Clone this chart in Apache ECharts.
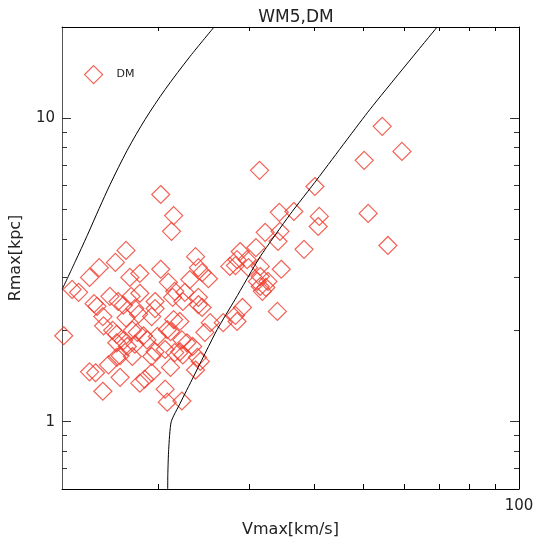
<!DOCTYPE html>
<html><head><meta charset="utf-8">
<script src="https://cdn.jsdelivr.net/npm/echarts@6/dist/echarts.min.js"></script>
<style>html,body{margin:0;padding:0;background:#fff}#c{width:537px;height:537px}</style>
</head><body><div id="c"></div>
<script>
// DM halo sample: Vmax [km/s] and Rmax [kpc]
const vmaxDM = [54.3,59.3,50.1,40.2,36.6,41.0,40.8,51.0,38.3,55.7,31.4,20.2,21.4,21.2,34.3,32.2,34.4,34.1,30.9,28.8,
  23.6,29.7,28.4,27.5,28.2,29.9,31.5,23.9,24.3,25.0,23.0,34.6,31.5,31.1,32.6,31.5,32.3,22.5,23.9,22.3,
  23.9,24.3,29.1,34.0,31.8,25.2,24.6,26.7,28.4,28.2,22.2,22.7,23.3,22.3,23.8,24.1,23.6,22.0,17.3,16.5,
  15.35,14.7,17.6,18.4,20.2,20.9,13.6,14.0,16.1,17.7,18.4,21.5,15.2,15.0,16.7,17.1,18.0,19.7,19.7,21.3,
  15.6,15.65,17.3,18.3,19.4,21.4,13.1,16.3,16.6,17.8,18.2,18.7,19.0,17.1,16.6,17.4,18.0,16.85,16.6,17.8,
  16.0,14.7,15.1,16.85,15.6,18.4,18.8,19.4,19.9,20.8,21.1,19.7,19.4,20.6,21.5,22.0,21.1,20.6,20.8,22.2];
const rmaxDM = [9.41,7.78,7.27,5.96,4.93,4.75,4.40,4.86,3.70,3.81,6.74,5.61,4.78,4.24,4.90,4.21,4.24,3.93,3.75,3.64,
  3.50,3.42,3.42,3.25,3.27,3.22,3.25,3.22,3.10,2.96,2.94,3.18,3.01,2.90,2.90,2.79,2.77,2.67,2.57,2.49,
  2.43,2.38,2.38,2.31,2.69,2.12,1.97,2.12,2.14,2.24,1.86,1.82,1.77,1.66,1.63,1.58,1.48,2.14,3.67,3.35,
  3.22,2.99,2.99,3.08,3.18,2.88,2.73,2.67,2.59,2.59,2.65,2.69,2.40,2.45,2.49,2.42,2.36,2.49,2.36,2.57,
  2.22,2.07,2.20,2.26,2.22,2.17,1.92,2.00,1.94,2.00,1.97,1.92,1.86,1.85,1.82,1.77,1.80,1.65,1.63,1.64,
  1.54,1.46,1.45,1.40,1.26,1.34,1.38,1.45,1.91,2.01,1.98,1.70,1.64,1.73,1.69,1.70,1.51,1.28,1.16,1.17];
// Two reference curves
const curveLeftV  = [13.01, 13.79, 14.55, 15.35, 16.12, 17.39, 18.84, 20.61, 23.04, 25.64];
const curveLeftR  = [2.73, 3.37, 4.11, 5.05, 6.06, 7.84, 9.92, 12.46, 16.02, 20.0];
const curveRightV = [20.84, 20.85, 20.93, 21.17, 22.03, 23.35, 25.98, 28.16, 31.49, 35.98, 40.60, 51.43, 69.4];
const curveRightR = [0.6, 0.67, 0.81, 1.0, 1.15, 1.40, 2.01, 2.53, 3.50, 4.82, 6.29, 10.71, 20.0];
// Axis ticks
const xLabelValues = [100];
const xMinorTicks = [20, 30, 40, 50, 60, 70, 80, 90];
const yLabelValues = [1, 10];
const yMinorTicks = [0.7, 0.8, 0.9, 2, 3, 4, 5, 6, 7, 8, 9];

const FONT = 'DejaVu Sans';
const TXT = '#222';
const RED = '#f03a2a';
const X_MIN = 13, X_MAX = 100, Y_MIN = 0.6, Y_MAX = 20;

const zip = (a, b) => a.map((v, i) => [v, b[i]]);

const baseX = (pos) => ({
  type: 'log', logBase: 10, min: X_MIN, max: X_MAX, position: pos,
  splitLine: { show: false },
  axisLine: { show: true, lineStyle: { color: '#000', width: 1 } },
  axisTick: { show: true, inside: true, length: pos === 'top' ? 4 : 5, customValues: xMinorTicks, lineStyle: { color: '#000' } },
  axisLabel: { show: false }
});
const baseY = (pos, major, showLine) => ({
  type: 'log', logBase: 10, min: Y_MIN, max: Y_MAX, position: pos,
  splitLine: { show: false },
  axisLine: { show: showLine, lineStyle: { color: pos === 'left' ? '#555' : '#000', width: 1 } },
  axisTick: { show: true, inside: true, length: major ? 9 : 5, customValues: major ? yLabelValues : yMinorTicks, lineStyle: { color: '#333' } },
  axisLabel: { show: false }
});

const xBottom = baseX('bottom');
xBottom.axisLabel = { show: true, customValues: xLabelValues, fontSize: 15, fontFamily: FONT, color: TXT, margin: 10 };
xBottom.name = 'Vmax[km/s]';
xBottom.nameLocation = 'middle';
xBottom.nameGap = 33;
xBottom.nameTextStyle = { fontSize: 16, fontFamily: FONT, color: TXT };

const yLeft = baseY('left', true, true);
yLeft.axisLabel = { show: true, customValues: yLabelValues, fontSize: 15, fontFamily: FONT, color: TXT, margin: 7 };
yLeft.name = 'Rmax[kpc]';
yLeft.nameLocation = 'middle';
yLeft.nameGap = 38;
yLeft.nameRotate = 90;
yLeft.nameTextStyle = { fontSize: 16, fontFamily: FONT, color: TXT };

const chart = echarts.init(document.getElementById('c'), null, { renderer: 'canvas' });
chart.setOption({
  animation: false,
  backgroundColor: '#fff',
  title: { text: 'WM5,DM', left: 291, textAlign: 'center', top: 4,
    textStyle: { fontSize: 17, fontWeight: 'normal', fontFamily: FONT, color: TXT } },
  legend: {
    data: ['DM'], left: 84, top: 65, padding: 0, itemWidth: 18, itemHeight: 18,
    itemStyle: { color: 'rgba(0,0,0,0)', borderColor: RED, borderWidth: 1.2 },
    textStyle: { fontSize: 11, fontFamily: FONT, color: TXT, padding: [0, 0, 0, 9] },
    selectedMode: false
  },
  grid: { left: 62, right: 18, top: 27, bottom: 48, containLabel: false, outerBoundsMode: 'none' },
  xAxis: [xBottom, baseX('top')],
  yAxis: [yLeft, baseY('left', false, false), baseY('right', true, true), baseY('right', false, false)],
  series: [
    { type: 'scatter', name: 'DM', xAxisIndex: 0, yAxisIndex: 0,
      data: zip(vmaxDM, rmaxDM), symbol: 'diamond', symbolSize: 18,
      itemStyle: { color: 'rgba(0,0,0,0)', borderColor: RED, borderWidth: 1.2 },
      emphasis: { disabled: true }, z: 2 },
    { type: 'line', name: 'curveLeft', xAxisIndex: 0, yAxisIndex: 0,
      data: zip(curveLeftV, curveLeftR), symbol: 'none', smooth: 0.3, clip: true, silent: true,
      lineStyle: { color: '#000', width: 1 }, z: 3 },
    { type: 'line', name: 'curveRight', xAxisIndex: 0, yAxisIndex: 0,
      data: zip(curveRightV, curveRightR), symbol: 'none', smooth: 0.2, clip: true, silent: true,
      lineStyle: { color: '#000', width: 1 }, z: 3 }
  ]
});
</script>
</body></html>
